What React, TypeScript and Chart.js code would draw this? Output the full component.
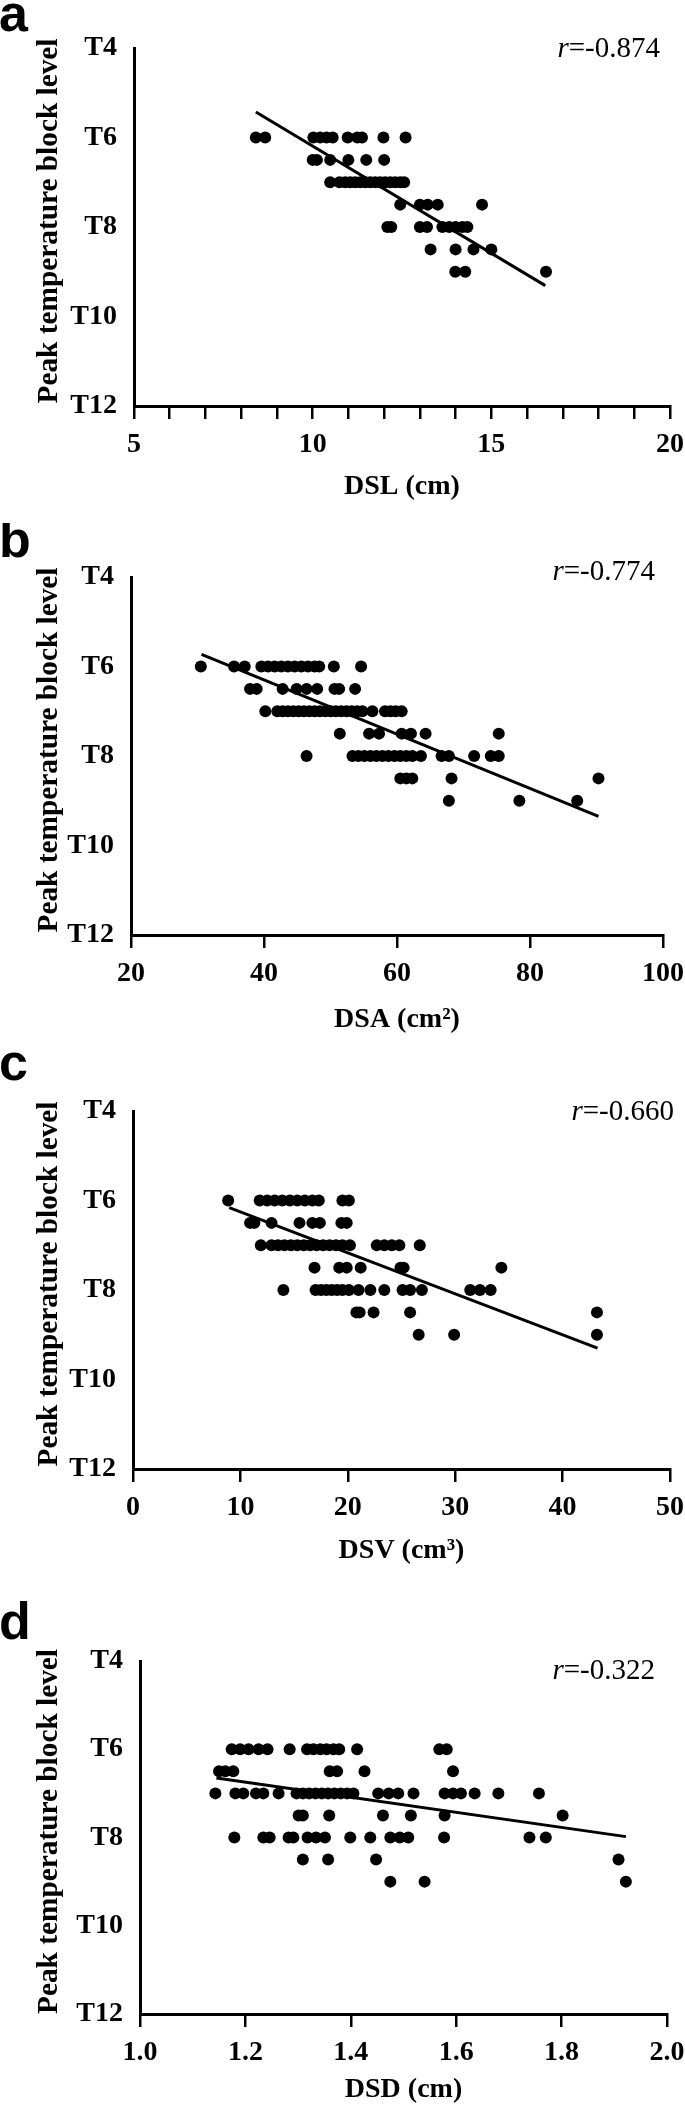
import React, { useEffect, useRef } from 'react';
import { Chart, registerables } from 'chart.js';

Chart.register(...registerables);

// Block levels (rows of dots): T6, T6-7, T7, T7-8, T8, T8-9, T9
const levels = [6, 6.5, 7, 7.5, 8, 8.5, 9];
const yTickValues = [4, 6, 8, 10, 12];
const yTitle = 'Peak temperature block level';

// Panel a: DSL (cm) – one list of x values per level row
const dslValues = [
  [8.41, 8.67, 10.02, 10.21, 10.39, 10.56, 10.98, 11.25, 11.38, 11.98, 12.6],
  [10.0, 10.12, 10.49, 11.0, 11.5, 12.0],
  [10.49, 10.75, 10.91, 11.05, 11.19, 11.33, 11.47, 11.61, 11.75, 11.89, 12.03, 12.17, 12.31, 12.45, 12.56],
  [12.45, 13.0, 13.22, 13.5, 14.74],
  [12.09, 12.2, 13.0, 13.2, 13.63, 13.82, 14.0, 14.19, 14.33],
  [13.3, 14.0, 14.5, 15.0],
  [13.99, 14.27, 16.53],
];
const dslFit = [[8.41, 5.43], [16.51, 9.31]];

// Panel b: DSA (cm²)
const dsaValues = [
  [30.5, 35.5, 37.1, 39.6, 40.6, 41.6, 42.6, 43.6, 44.6, 45.6, 46.6, 47.6, 48.3, 50.5, 54.6],
  [37.9, 38.9, 42.8, 44.9, 46.4, 48.0, 50.6, 51.3, 53.7],
  [40.2, 42.0, 42.8, 43.6, 44.4, 45.2, 46.0, 46.8, 47.6, 48.4, 49.2, 50.0, 50.8, 51.6, 52.4, 53.2, 54.0, 54.8, 56.3, 58.2, 59.0, 59.8, 60.7],
  [51.4, 55.8, 57.3, 60.7, 62.1, 64.3, 75.3],
  [46.4, 53.3, 54.2, 55.1, 56.0, 56.9, 57.8, 58.7, 59.6, 60.5, 61.4, 62.3, 63.6, 66.7, 67.8, 71.6, 74.1, 75.3],
  [60.5, 61.4, 62.3, 68.2, 90.3],
  [67.8, 78.4, 87.1],
];
const dsaFit = [[30.6, 5.73], [90.3, 9.35]];

// Panel c: DSV (cm³)
const dsvValues = [
  [8.86, 11.8, 12.5, 13.2, 13.9, 14.6, 15.3, 16.0, 16.7, 17.3, 19.5, 20.1],
  [10.9, 11.3, 12.9, 15.5, 16.7, 17.4, 19.4, 19.9],
  [11.9, 12.9, 13.5, 14.1, 14.7, 15.3, 15.9, 16.5, 17.1, 17.7, 18.3, 18.9, 19.5, 20.2, 22.7, 23.4, 24.1, 24.8, 26.7],
  [16.9, 19.2, 19.9, 21.2, 24.9, 25.2, 34.3],
  [14.0, 17.0, 17.5, 18.0, 18.5, 19.0, 19.5, 20.1, 21.0, 22.1, 23.4, 25.1, 25.8, 26.9, 31.4, 32.3, 33.3],
  [20.8, 21.1, 22.4, 25.8, 43.2],
  [26.6, 29.9, 43.2],
];
const dsvFit = [[8.96, 6.16], [43.25, 9.3]];

// Panel d: DSD (cm)
const dsdValues = [
  [1.174, 1.19, 1.206, 1.225, 1.242, 1.284, 1.317, 1.329, 1.342, 1.354, 1.367, 1.378, 1.412, 1.568, 1.582],
  [1.15, 1.162, 1.177, 1.36, 1.374, 1.426, 1.594],
  [1.143, 1.181, 1.196, 1.22, 1.234, 1.263, 1.297, 1.309, 1.321, 1.333, 1.345, 1.357, 1.369, 1.381, 1.393, 1.405, 1.452, 1.472, 1.49, 1.519, 1.578, 1.594, 1.609, 1.635, 1.68, 1.757],
  [1.301, 1.309, 1.359, 1.461, 1.514, 1.578, 1.802],
  [1.179, 1.234, 1.246, 1.282, 1.291, 1.318, 1.334, 1.351, 1.399, 1.437, 1.475, 1.493, 1.509, 1.577, 1.739, 1.77],
  [1.309, 1.357, 1.448, 1.908],
  [1.475, 1.54, 1.922],
];
const dsdFit = [[1.145, 6.65], [1.922, 7.98]];

const panelLetters = ['a', 'b', 'c', 'd'];
const xTitles = ['DSL (cm)', 'DSA (cm²)', 'DSV (cm³)', 'DSD (cm)'];
const rTexts = ['-0.874', '-0.774', '-0.660', '-0.322'];
const xRanges = [[5, 20], [20, 100], [0, 50], [1, 2]];
const xSteps = [1, 20, 10, 0.2];
const xLabelEvery = [5, 20, 10, 0.2];
const xDecimals = [0, 0, 0, 1];

const SERIF = '"Liberation Serif", "Times New Roman", Times, serif';
const SANS = '"Liberation Sans", Arial, Helvetica, sans-serif';

// Layout of each panel (pixels)
const layouts = [
  { top: 0, height: 523, padTop: 48, left: 134, right: 15, axisH: 117, titlePad: 19, rRight: 660, rY: 49, letterY: 31 },
  { top: 523, height: 527, padTop: 54, left: 131, right: 22, axisH: 115, titlePad: 13, rRight: 655, rY: 49, letterY: 34 },
  { top: 1050, height: 530, padTop: 61, left: 133, right: 15, axisH: 111, titlePad: 12, rRight: 674, rY: 62, letterY: 30 },
  { top: 1580, height: 535, padTop: 81, left: 140, right: 18, axisH: 101, titlePad: 8, rRight: 655, rY: 91, letterY: 59 },
];
const yTitleLength = 365;
const yTitleBaselineX = 57;

const allValues = [dslValues, dsaValues, dsvValues, dsdValues];
const allFits = [dslFit, dsaFit, dsvFit, dsdFit];

const overlayPlugin = {
  id: 'overlay',
  afterDraw(chart: any, _args: any, opts: any) {
    const ctx = chart.ctx;
    const area = chart.chartArea;
    ctx.save();
    ctx.fillStyle = '#000';
    ctx.textAlign = 'left';
    ctx.textBaseline = 'alphabetic';
    ctx.font = `bold 52px ${SANS}`;
    ctx.fillText(opts.letter, -1, opts.letterY);

    // r value
    ctx.textBaseline = 'middle';
    ctx.font = `29px ${SERIF}`;
    const rest = '=' + opts.r;
    const wRest = ctx.measureText(rest).width;
    ctx.font = `italic 29px ${SERIF}`;
    const wr = ctx.measureText('r').width;
    const x0 = opts.rRight - wRest - wr;
    ctx.fillText('r', x0, opts.rY);
    ctx.font = `29px ${SERIF}`;
    ctx.fillText(rest, x0 + wr, opts.rY);
    ctx.restore();

    // y axis title (rotated, stretched along its length)
    ctx.save();
    ctx.fillStyle = '#000';
    ctx.font = `bold 30px ${SERIF}`;
    const w = ctx.measureText(yTitle).width;
    const cy = (area.top + area.bottom) / 2 - 6;
    ctx.translate(yTitleBaselineX, cy);
    ctx.rotate(-Math.PI / 2);
    ctx.scale(yTitleLength / w, 1);
    ctx.textAlign = 'center';
    ctx.textBaseline = 'alphabetic';
    ctx.fillText(yTitle, 0, 0);
    ctx.restore();
  },
};

function Panel({ index }: { index: number }) {
  const ref = useRef<HTMLCanvasElement | null>(null);
  const L = layouts[index];

  useEffect(() => {
    if (!ref.current) return;
    const values = allValues[index];
    const points: { x: number; y: number }[] = [];
    values.forEach((row, i) => row.forEach((v) => points.push({ x: v, y: levels[i] })));
    const fit = allFits[index].map(([x, y]) => ({ x, y }));
    const [xMin, xMax] = xRanges[index];
    const every = xLabelEvery[index];
    const dec = xDecimals[index];

    const chart = new Chart(ref.current, {
      type: 'scatter',
      data: {
        datasets: [
          {
            type: 'line',
            data: fit,
            borderColor: '#000',
            borderWidth: 3,
            pointRadius: 0,
            fill: false,
            tension: 0,
          } as any,
          {
            type: 'scatter',
            data: points,
            backgroundColor: '#000',
            borderColor: '#000',
            borderWidth: 0,
            pointRadius: 6,
          } as any,
        ],
      },
      options: {
        responsive: false,
        animation: false,
        events: [],
        layout: { padding: { top: L.padTop, right: L.right, left: 0, bottom: 0 } },
        plugins: {
          legend: { display: false },
          tooltip: { enabled: false },
          overlay: {
            letter: panelLetters[index],
            r: rTexts[index],
            rRight: L.rRight,
            rY: L.rY,
            letterY: L.letterY,
          },
        } as any,
        scales: {
          x: {
            type: 'linear',
            position: 'bottom',
            min: xMin,
            max: xMax,
            afterFit: (s: any) => {
              s.height = L.axisH;
              s.paddingLeft = 0;
              s.paddingRight = 0;
            },
            ticks: {
              stepSize: xSteps[index],
              autoSkip: false,
              maxRotation: 0,
              minRotation: 0,
              padding: 9,
              color: '#000',
              font: { family: SERIF, weight: 'bold', size: 28 },
              callback: (v: any) => {
                const n = Number(v);
                const k = Math.round(n / every);
                if (Math.abs(n - k * every) > 1e-6) return '';
                return n.toFixed(dec);
              },
            },
            grid: {
              display: true,
              drawOnChartArea: false,
              drawTicks: true,
              tickLength: 13,
              color: '#000',
              lineWidth: 2.5,
            },
            border: { display: true, color: '#000', width: 3 },
            title: {
              display: true,
              text: xTitles[index],
              color: '#000',
              font: { family: SERIF, weight: 'bold', size: 28 },
              padding: { top: 0, bottom: L.titlePad },
            },
          },
          y: {
            type: 'linear',
            position: 'left',
            reverse: true,
            min: yTickValues[0],
            max: yTickValues[yTickValues.length - 1],
            afterFit: (s: any) => {
              s.width = L.left;
              s.paddingTop = 0;
              s.paddingBottom = 0;
            },
            ticks: {
              stepSize: 2,
              padding: 17,
              color: '#000',
              font: { family: SERIF, weight: 'bold', size: 28 },
              callback: (v: any) => 'T' + v,
            },
            grid: { display: false, drawTicks: false, tickLength: 0 },
            border: { display: true, color: '#000', width: 3 },
            title: { display: false },
          },
        },
      } as any,
      plugins: [overlayPlugin as any],
    });
    return () => chart.destroy();
  }, [index]);

  return (
    <canvas
      ref={ref}
      width={685}
      height={L.height}
      style={{ position: 'absolute', left: 0, top: L.top, width: 685, height: L.height, display: 'block' }}
    />
  );
}

export default function App() {
  return (
    <div style={{ position: 'absolute', left: 0, top: 0, width: 685, height: 2115, background: '#fff', overflow: 'hidden' }}>
      {[0, 1, 2, 3].map((i) => (
        <Panel key={i} index={i} />
      ))}
    </div>
  );
}
